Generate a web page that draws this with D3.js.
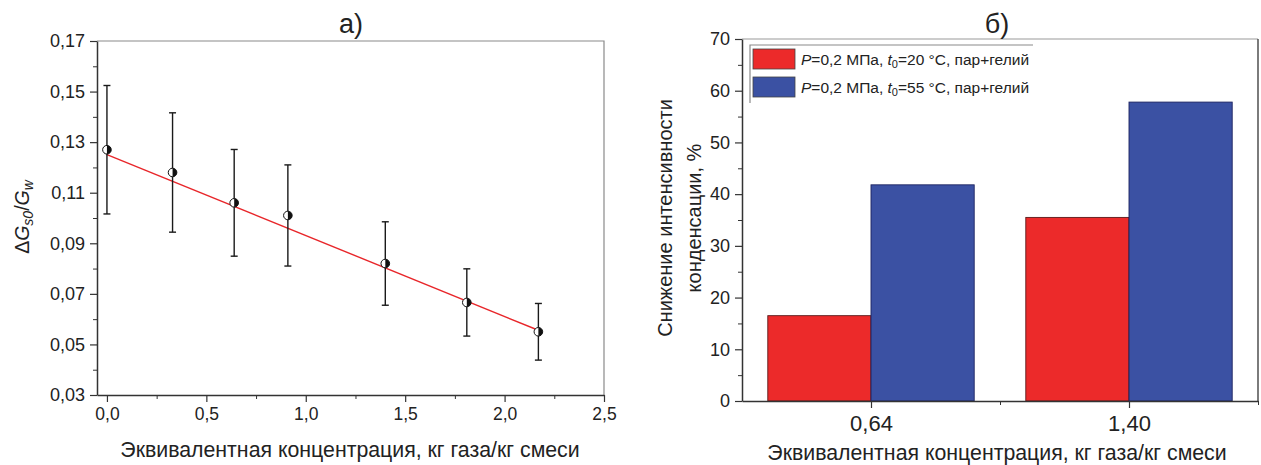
<!DOCTYPE html>
<html>
<head>
<meta charset="utf-8">
<script src="https://cdn.jsdelivr.net/npm/d3@7"></script>
<style>
  html, body { margin: 0; padding: 0; background: #fff; }
  svg { display: block; font-family: "Liberation Sans", Arial, sans-serif; }
</style>
</head>
<body>
<svg id="chart" width="1261" height="465"></svg>
<script>
// Panel (а): relative mass flow vs. equivalent gas concentration
const concX = [0.0, 0.33, 0.64, 0.91, 1.40, 1.81, 2.17];
const ratioY = [0.127, 0.118, 0.106, 0.101, 0.082, 0.0666, 0.055];
const ratioErr = [0.0254, 0.0236, 0.0211, 0.0200, 0.0165, 0.0133, 0.0112];
// linear fit, end points
const fitX = [0.0, 2.17];
const fitY = [0.1251, 0.0556];
const xTicksA = [0, 0.5, 1.0, 1.5, 2.0, 2.5];
const yTicksA = [0.03, 0.05, 0.07, 0.09, 0.11, 0.13, 0.15, 0.17];

// Panel (б): condensation intensity reduction
const categories = ["0,64", "1,40"];
const seriesNames = ["t20", "t55"];
const seriesRed = [16.5, 35.5];   // P=0,2 МПа, t0=20 °C
const seriesBlue = [41.8, 57.8];  // P=0,2 МПа, t0=55 °C
const yTicksB = [0, 10, 20, 30, 40, 50, 60, 70];

const colors = { t20: "#ec2a2a", t55: "#3b51a3" };

const svg = d3.select("#chart");

function styleAxis(ax, size) {
  ax.select(".domain").attr("stroke", "#333").attr("stroke-width", 1.5);
  ax.selectAll(".tick line").attr("stroke", "#333").attr("stroke-width", 1.2);
  ax.selectAll(".tick text").attr("font-size", size).attr("fill", "#222")
    .attr("font-family", "Liberation Sans, Arial, sans-serif");
}

// ---------- panel а ----------
const A = { left: 97, right: 604, top: 41, bottom: 395 };
const xA = d3.scaleLinear().domain([-0.05, 2.5]).range([A.left, A.right]);
const yA = d3.scaleLinear().domain([0.03, 0.17]).range([A.bottom, A.top]);

const gA = svg.append("g");

// frame top/right
gA.append("path")
  .attr("d", `M${A.left},${A.top}H${A.right}V${A.bottom}`)
  .attr("fill", "none").attr("stroke", "#8a8a8a").attr("stroke-width", 1.2);

// minor ticks
const xMinorA = d3.range(0.25, 2.5, 0.5);
const yMinorA = d3.range(0.04, 0.17, 0.02);
gA.append("g").attr("transform", `translate(0,${A.bottom})`)
  .call(d3.axisBottom(xA).tickValues(xMinorA).tickSize(4).tickFormat(""))
  .call(g => g.select(".domain").remove())
  .call(g => g.selectAll("line").attr("stroke", "#333"));
gA.append("g").attr("transform", `translate(${A.left},0)`)
  .call(d3.axisLeft(yA).tickValues(yMinorA).tickSize(4).tickFormat(""))
  .call(g => g.select(".domain").remove())
  .call(g => g.selectAll("line").attr("stroke", "#333"));

const xAxisA = gA.append("g").attr("transform", `translate(0,${A.bottom})`)
  .call(d3.axisBottom(xA).tickValues(xTicksA).tickSize(7).tickPadding(6)
    .tickFormat(d => d3.format(".1f")(d).replace(".", ",")).tickSizeOuter(0));
const yAxisA = gA.append("g").attr("transform", `translate(${A.left},0)`)
  .call(d3.axisLeft(yA).tickValues(yTicksA).tickSize(7).tickPadding(5)
    .tickFormat(d => d3.format(".2f")(d).replace(".", ",")).tickSizeOuter(0));
styleAxis(xAxisA, 17.5);
styleAxis(yAxisA, 18);

// fit line
gA.append("line")
  .attr("x1", xA(fitX[0])).attr("y1", yA(fitY[0]))
  .attr("x2", xA(fitX[1])).attr("y2", yA(fitY[1]))
  .attr("stroke", "#e8262a").attr("stroke-width", 1.4);

// error bars
const pts = concX.map((x, i) => ({ x, y: ratioY[i], e: ratioErr[i] }));
const eb = gA.append("g").attr("stroke", "#1a1a1a").attr("stroke-width", 1.4);
pts.forEach(p => {
  const cx = xA(p.x), y0 = yA(p.y - p.e), y1 = yA(p.y + p.e);
  eb.append("line").attr("x1", cx).attr("x2", cx).attr("y1", y0).attr("y2", y1);
  eb.append("line").attr("x1", cx - 3.5).attr("x2", cx + 3.5).attr("y1", y0).attr("y2", y0);
  eb.append("line").attr("x1", cx - 3.5).attr("x2", cx + 3.5).attr("y1", y1).attr("y2", y1);
});

// half-filled circle markers
const r = 4.3;
pts.forEach(p => {
  const cx = xA(p.x), cy = yA(p.y);
  gA.append("circle").attr("cx", cx).attr("cy", cy).attr("r", r)
    .attr("fill", "#fff").attr("stroke", "#111").attr("stroke-width", 1);
  gA.append("path")
    .attr("d", `M${cx},${cy - r}A${r},${r} 0 0 1 ${cx},${cy + r}Z`)
    .attr("fill", "#111");
});

// titles and labels
gA.append("text").attr("x", 351).attr("y", 33).attr("text-anchor", "middle")
  .attr("font-size", 27).attr("fill", "#222").text("а)");
gA.append("text").attr("x", 350).attr("y", 457).attr("text-anchor", "middle")
  .attr("font-size", 21.3).attr("fill", "#222")
  .text("Эквивалентная концентрация, кг газа/кг смеси");

const yl = gA.append("text").attr("transform", "translate(29,217) rotate(-90)")
  .attr("text-anchor", "middle").attr("font-size", 19.5).attr("fill", "#222");
yl.append("tspan").text("Δ");
yl.append("tspan").attr("font-style", "italic").text("G");
yl.append("tspan").attr("font-style", "italic").attr("font-size", 14).attr("dy", 4).text("s0");
yl.append("tspan").attr("dy", -4).text("/");
yl.append("tspan").attr("font-style", "italic").text("G");
yl.append("tspan").attr("font-style", "italic").attr("font-size", 14).attr("dy", 4).text("w");

// ---------- panel б ----------
const B = { left: 742, right: 1258, top: 39, bottom: 401 };
const xB = d3.scaleBand().domain(categories).range([B.left, B.right])
  .paddingInner(0.2).paddingOuter(0.1);
const xSub = d3.scaleBand().domain(seriesNames).range([0, xB.bandwidth()]).padding(0);
const yB = d3.scaleLinear().domain([0, 70]).range([B.bottom, B.top]);

const gB = svg.append("g");

gB.append("path")
  .attr("d", `M${B.left},${B.top}H${B.right}`)
  .attr("fill", "none").attr("stroke", "#9a9a9a").attr("stroke-width", 1.2);
gB.append("path")
  .attr("d", `M${B.right},${B.top}V${B.bottom}`)
  .attr("fill", "none").attr("stroke", "#444").attr("stroke-width", 1.4);

// bars
const barData = [];
categories.forEach((c, i) => {
  barData.push({ c, s: "t20", v: seriesRed[i] });
  barData.push({ c, s: "t55", v: seriesBlue[i] });
});
gB.selectAll("rect.bar").data(barData).join("rect").attr("class", "bar")
  .attr("x", d => xB(d.c) + xSub(d.s))
  .attr("width", xSub.bandwidth())
  .attr("y", d => yB(d.v))
  .attr("height", d => yB(0) - yB(d.v))
  .attr("fill", d => colors[d.s])
  .attr("stroke", d => d.s === "t20" ? "#5a1a1a" : "#1c2260")
  .attr("stroke-width", 0.9);

// y minor ticks
gB.append("g").attr("transform", `translate(${B.left},0)`)
  .call(d3.axisLeft(yB).tickValues(d3.range(5, 70, 10)).tickSize(4).tickFormat(""))
  .call(g => g.select(".domain").remove())
  .call(g => g.selectAll("line").attr("stroke", "#333"));
const yAxisB = gB.append("g").attr("transform", `translate(${B.left},0)`)
  .call(d3.axisLeft(yB).tickValues(yTicksB).tickSize(7).tickPadding(5).tickSizeOuter(0));

// x axis: category ticks at group centres, minor tick between groups
const xLin = d3.scaleLinear().domain([0.5, 2.5]).range([B.left, B.right]);
const xAxisB = gB.append("g").attr("transform", `translate(0,${B.bottom})`)
  .call(d3.axisBottom(xLin).tickValues([1, 2]).tickSize(7).tickPadding(7)
    .tickFormat((d, i) => categories[i]).tickSizeOuter(0));
gB.append("g").attr("transform", `translate(0,${B.bottom})`)
  .call(d3.axisBottom(xLin).tickValues([1.5, 2.5]).tickSize(4).tickFormat(""))
  .call(g => g.select(".domain").remove())
  .call(g => g.selectAll("line").attr("stroke", "#333"));
styleAxis(xAxisB, 22);
styleAxis(yAxisB, 18);

// legend
const L = { x: 750, y: 45, w: 283, h: 58 };
gB.append("path").attr("d", `M${L.x},${L.y + L.h}V${L.y}H${L.x + L.w}`)
  .attr("fill", "none").attr("stroke", "#8a8a8a").attr("stroke-width", 1.2);
const legendRows = [
  { s: "t20", t: "20" },
  { s: "t55", t: "55" }
];
legendRows.forEach((row, i) => {
  const yy = 49 + i * 28;
  gB.append("rect").attr("x", 753).attr("y", yy).attr("width", 42).attr("height", 20)
    .attr("fill", colors[row.s]).attr("stroke", "#444").attr("stroke-width", 0.8);
  const t = gB.append("text").attr("x", 801).attr("y", yy + 15.5)
    .attr("font-size", 15.5).attr("fill", "#222");
  t.append("tspan").attr("font-style", "italic").text("P");
  t.append("tspan").text("=0,2 МПа, ");
  t.append("tspan").attr("font-style", "italic").text("t");
  t.append("tspan").attr("font-size", 11).attr("dy", 3).text("0");
  t.append("tspan").attr("dy", -3).text(`=${row.t} °C, пар+гелий`);
});

gB.append("text").attr("x", 997).attr("y", 33).attr("text-anchor", "middle")
  .attr("font-size", 27).attr("fill", "#222").text("б)");
gB.append("text").attr("x", 997).attr("y", 460).attr("text-anchor", "middle")
  .attr("font-size", 21.3).attr("fill", "#222")
  .text("Эквивалентная концентрация, кг газа/кг смеси");
const ylB = gB.append("text").attr("transform", "translate(672,218) rotate(-90)")
  .attr("text-anchor", "middle").attr("font-size", 20).attr("fill", "#222");
ylB.append("tspan").attr("x", 0).attr("dy", 0).text("Снижение интенсивности");
ylB.append("tspan").attr("x", 0).attr("dy", 29).text("конденсации, %");
</script>
</body>
</html>
